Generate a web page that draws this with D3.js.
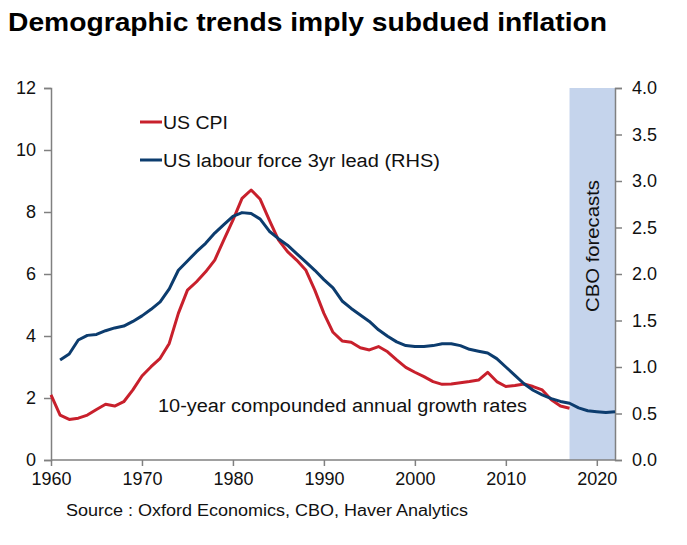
<!DOCTYPE html>
<html>
<head>
<meta charset="utf-8">
<script src="https://cdn.jsdelivr.net/npm/d3@7"></script>
<style>
  html, body { margin: 0; padding: 0; background: #fff; }
  svg { display: block; font-family: "Liberation Sans", Arial, sans-serif; }
</style>
</head>
<body>
<svg id="chart" width="687" height="545"></svg>
<script>
// ---- Data ----
const cpiYears = [1960,1961,1962,1963,1964,1965,1966,1967,1968,1969,1970,1971,1972,1973,1974,1975,1976,1977,1978,1979,1980,1981,1982,1983,1984,1985,1986,1987,1988,1989,1990,1991,1992,1993,1994,1995,1996,1997,1998,1999,2000,2001,2002,2003,2004,2005,2006,2007,2008,2009,2010,2011,2012,2013,2014,2015,2016,2017];
const cpiValues = [2.10,1.45,1.31,1.35,1.45,1.63,1.80,1.74,1.88,2.26,2.71,3.01,3.28,3.76,4.73,5.48,5.75,6.07,6.45,7.10,7.74,8.44,8.71,8.41,7.74,7.10,6.72,6.45,6.13,5.48,4.73,4.12,3.84,3.80,3.62,3.55,3.66,3.49,3.23,2.99,2.83,2.69,2.53,2.44,2.45,2.49,2.53,2.58,2.83,2.53,2.37,2.40,2.45,2.37,2.26,1.94,1.74,1.67];

const lfYears = [1961,1962,1963,1964,1965,1966,1967,1968,1969,1970,1971,1972,1973,1974,1975,1976,1977,1978,1979,1980,1981,1982,1983,1984,1985,1986,1987,1988,1989,1990,1991,1992,1993,1994,1995,1996,1997,1998,1999,2000,2001,2002,2003,2004,2005,2006,2007,2008,2009,2010,2011,2012,2013,2014,2015,2016,2017,2018,2019,2020,2021,2022];
const lfValues = [1.075,1.14,1.29,1.34,1.35,1.39,1.42,1.44,1.49,1.55,1.62,1.70,1.84,2.04,2.14,2.24,2.33,2.44,2.53,2.62,2.66,2.65,2.59,2.46,2.38,2.31,2.22,2.13,2.04,1.94,1.85,1.71,1.63,1.56,1.49,1.40,1.33,1.27,1.23,1.22,1.22,1.23,1.25,1.25,1.23,1.19,1.17,1.15,1.09,1.00,0.91,0.82,0.75,0.70,0.66,0.63,0.61,0.56,0.53,0.52,0.51,0.52];

const xTicks = [1960,1970,1980,1990,2000,2010,2020];
const leftTicks = [0,2,4,6,8,10,12];
const rightTicks = [0,0.5,1.0,1.5,2.0,2.5,3.0,3.5,4.0];
const forecastRange = [2017, 2022];

const titleText = "Demographic trends imply subdued inflation";
const legendLabels = ["US CPI", "US labour force 3yr lead (RHS)"];
const noteText = "10-year compounded annual growth rates";
const shadeLabel = "CBO forecasts";
const sourceText = "Source : Oxford Economics, CBO, Haver Analytics";

// ---- Layout ----
const svg = d3.select("#chart");
const x = d3.scaleLinear().domain([1960, 2022]).range([51, 615]);
const yL = d3.scaleLinear().domain([0, 12]).range([460, 88]);
const yR = d3.scaleLinear().domain([0, 4]).range([460, 88]);

const RED = "#c8202c";
const BLUE = "#0c3c6e";
const AXIS = "#808080";

// shaded forecast region
svg.append("rect")
  .attr("x", x(forecastRange[0]))
  .attr("y", yL(12))
  .attr("width", x(forecastRange[1]) - x(forecastRange[0]))
  .attr("height", yL(0) - yL(12))
  .attr("fill", "#c5d4ec");

// title
svg.append("text")
  .attr("x", 8).attr("y", 31)
  .attr("font-size", 26).attr("font-weight", "bold")
  .attr("textLength", 599).attr("lengthAdjust", "spacingAndGlyphs")
  .attr("fill", "#000")
  .text(titleText);

// axes
const fmtR = d3.format(".1f");
const gL = svg.append("g").attr("transform", `translate(${x(1960)},0)`)
  .call(d3.axisLeft(yL).tickValues(leftTicks).tickSize(7).tickPadding(8).tickFormat(d3.format("d")));
const gR = svg.append("g").attr("transform", `translate(${x(2022)},0)`)
  .call(d3.axisRight(yR).tickValues(rightTicks).tickSize(7).tickPadding(10).tickFormat(fmtR));
const gB = svg.append("g").attr("transform", `translate(0,${yL(0)})`)
  .call(d3.axisBottom(x).tickValues(xTicks).tickSize(6).tickPadding(6).tickFormat(d3.format("d")));

[gL, gR, gB].forEach(g => {
  g.selectAll("path.domain").attr("stroke", AXIS).attr("stroke-width", 1.5);
  g.selectAll(".tick line").attr("stroke", AXIS).attr("stroke-width", 1.5);
  g.selectAll(".tick text").attr("font-size", 18).attr("fill", "#111")
    .attr("font-family", "'Liberation Sans', Arial, sans-serif");
});
gB.select("path.domain").attr("d", `M${x(1960)},0H${x(2022)}`);

// lines
const cpiData = cpiYears.map((yr, i) => ({ yr, v: cpiValues[i] }));
const lfData = lfYears.map((yr, i) => ({ yr, v: lfValues[i] }));

svg.append("path").datum(cpiData)
  .attr("fill", "none").attr("stroke", RED).attr("stroke-width", 3)
  .attr("stroke-linejoin", "round")
  .attr("d", d3.line().x(d => x(d.yr)).y(d => yL(d.v)));

svg.append("path").datum(lfData)
  .attr("fill", "none").attr("stroke", BLUE).attr("stroke-width", 3)
  .attr("stroke-linejoin", "round")
  .attr("d", d3.line().x(d => x(d.yr)).y(d => yR(d.v)));

// legend
const legend = svg.append("g");
const legendColors = [RED, BLUE];
const legendY = [122, 160];
const legendLens = [65, 277];
legendLabels.forEach((lab, i) => {
  legend.append("line")
    .attr("x1", 140).attr("x2", 162)
    .attr("y1", legendY[i]).attr("y2", legendY[i])
    .attr("stroke", legendColors[i]).attr("stroke-width", 3);
  legend.append("text")
    .attr("x", 163).attr("y", legendY[i] + 6.5)
    .attr("font-size", 18).attr("fill", "#111")
    .attr("textLength", legendLens[i]).attr("lengthAdjust", "spacingAndGlyphs")
    .text(lab);
});

// note
svg.append("text")
  .attr("x", 158).attr("y", 412)
  .attr("font-size", 18).attr("fill", "#111")
  .attr("textLength", 369).attr("lengthAdjust", "spacingAndGlyphs")
  .text(noteText);

// CBO forecasts label
svg.append("text")
  .attr("transform", `translate(${(x(forecastRange[0]) + x(forecastRange[1])) / 2 + 7},246) rotate(-90)`)
  .attr("text-anchor", "middle")
  .attr("font-size", 19).attr("fill", "#111")
  .attr("textLength", 132).attr("lengthAdjust", "spacingAndGlyphs")
  .text(shadeLabel);

// source
svg.append("text")
  .attr("x", 66).attr("y", 516)
  .attr("font-size", 16).attr("fill", "#111")
  .attr("textLength", 402).attr("lengthAdjust", "spacingAndGlyphs")
  .text(sourceText);
</script>
</body>
</html>
